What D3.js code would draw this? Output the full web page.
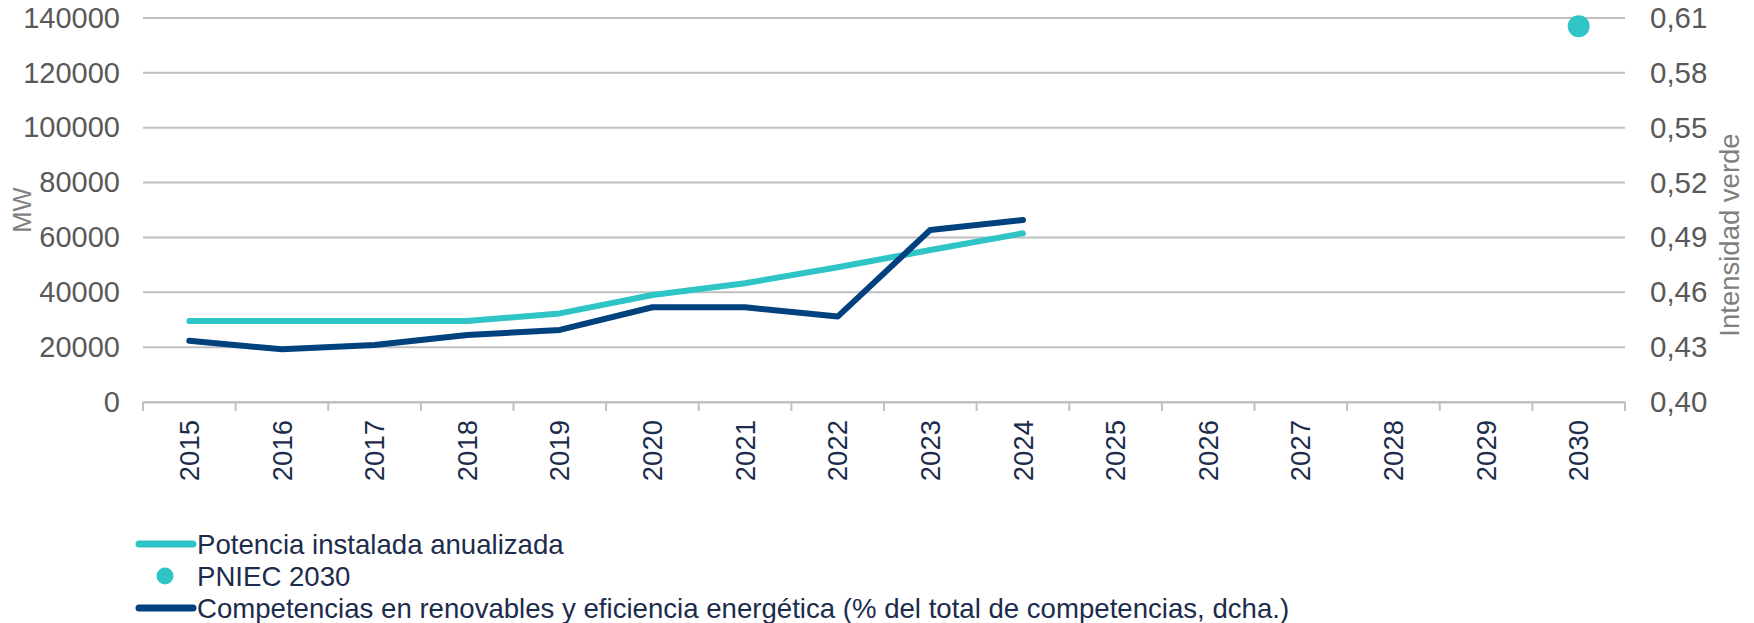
<!DOCTYPE html>
<html>
<head>
<meta charset="utf-8">
<script src="https://cdn.jsdelivr.net/npm/d3@7"></script>
<style>
  body { margin: 0; background: #ffffff; }
  #my_dataviz { width: 1754px; height: 623px; }
  text { font-family: "Liberation Sans", Arial, sans-serif; }
</style>
</head>
<body>
<div id="my_dataviz"></div>
<script>
// Data
const years = ["2015", "2016", "2017", "2018", "2019", "2020", "2021", "2022",
  "2023", "2024", "2025", "2026", "2027", "2028", "2029", "2030"];
const potenciaYears = ["2015", "2016", "2017", "2018", "2019", "2020", "2021", "2022", "2023", "2024"];
const potenciaValues = [29500, 29500, 29500, 29500, 32300, 39000, 43300, 49100, 55400, 61500];
const competenciasValues = [0.4335, 0.4288, 0.4312, 0.4366, 0.4394, 0.4518, 0.4518, 0.4467, 0.4941, 0.4995];
const pniecYear = "2030";
const pniecValue = 137000;
const leftTicks = [0, 20000, 40000, 60000, 80000, 100000, 120000, 140000];
const rightTicks = [0.40, 0.43, 0.46, 0.49, 0.52, 0.55, 0.58, 0.61];
const legendLabels = [
  "Potencia instalada anualizada",
  "PNIEC 2030",
  "Competencias en renovables y eficiencia energética (% del total de competencias, dcha.)"
];

const width = 1754;
const height = 623;
const margin = { top: 18, right: 129, bottom: 221, left: 143 };

const teal = "#2fc4c6";
const navy = "#00417e";
const textNavy = "#1c2c4c";
const grey = "#595959";

const svg = d3.select("#my_dataviz")
  .append("svg")
  .attr("width", width)
  .attr("height", height);

// Scales
const x = d3.scaleBand()
  .domain(years)
  .range([margin.left, width - margin.right]);

const yLeft = d3.scaleLinear()
  .domain([0, 140000])
  .range([height - margin.bottom, margin.top]);

const yRight = d3.scaleLinear()
  .domain([0.40, 0.61])
  .range([height - margin.bottom, margin.top]);

const cx = d => x(d) + x.bandwidth() / 2;

// Gridlines
svg.append("g")
  .selectAll("line")
  .data(leftTicks)
  .join("line")
  .attr("x1", margin.left)
  .attr("x2", width - margin.right)
  .attr("y1", d => yLeft(d))
  .attr("y2", d => yLeft(d))
  .style("stroke", "#c0c0c0")
  .style("stroke-width", 2);

// Left axis labels
const leftAxis = svg.append("g")
  .attr("transform", `translate(${margin.left},0)`)
  .call(d3.axisLeft(yLeft).tickValues(leftTicks).tickSize(0).tickPadding(23).tickFormat(d3.format("d")));
leftAxis.select(".domain").remove();
leftAxis.selectAll("text")
  .style("font-size", "29px")
  .style("fill", grey)
  .style("font-family", "'Liberation Sans', Arial, sans-serif");

// Right axis labels
const rightAxis = svg.append("g")
  .attr("transform", `translate(${width - margin.right},0)`)
  .call(d3.axisRight(yRight).tickValues(rightTicks).tickSize(0).tickPadding(25)
    .tickFormat(d => d3.format(".2f")(d).replace(".", ",")));
rightAxis.select(".domain").remove();
rightAxis.selectAll("text")
  .style("font-size", "29.5px")
  .style("fill", grey)
  .style("font-family", "'Liberation Sans', Arial, sans-serif");

// Bottom axis with ticks at band edges
const xAxis = svg.append("g")
  .attr("transform", `translate(0,${height - margin.bottom})`)
  .call(d3.axisBottom(x).tickSize(0).tickPadding(18));
xAxis.select(".domain").style("stroke", "#c0c0c0").style("stroke-width", 2);
xAxis.selectAll("text")
  .attr("transform", "rotate(-90)")
  .attr("x", -18)
  .attr("y", 0)
  .attr("dy", "0.35em")
  .attr("text-anchor", "end")
  .style("font-size", "27.5px")
  .style("fill", textNavy)
  .style("font-family", "'Liberation Sans', Arial, sans-serif");

svg.append("g")
  .selectAll("line")
  .data(years.concat(["end"]))
  .join("line")
  .attr("x1", (d, i) => margin.left + i * x.bandwidth())
  .attr("x2", (d, i) => margin.left + i * x.bandwidth())
  .attr("y1", height - margin.bottom)
  .attr("y2", height - margin.bottom + 9)
  .style("stroke", "#c0c0c0")
  .style("stroke-width", 2);

// Axis titles
svg.append("text")
  .attr("transform", `translate(22,${(yLeft(60000) + yLeft(80000)) / 2}) rotate(-90)`)
  .attr("text-anchor", "middle")
  .attr("dy", "0.35em")
  .style("font-size", "25.5px")
  .style("fill", "#7f7f7f")
  .text("MW");

svg.append("text")
  .attr("transform", `translate(1729,235) rotate(-90)`)
  .attr("text-anchor", "middle")
  .attr("dy", "0.35em")
  .style("font-size", "27.5px")
  .style("fill", "#7f7f7f")
  .text("Intensidad verde");

// Lines
const potenciaLine = d3.line()
  .x(d => cx(d.year))
  .y(d => yLeft(d.value));

const competenciasLine = d3.line()
  .x(d => cx(d.year))
  .y(d => yRight(d.value));

svg.append("path")
  .datum(potenciaYears.map((year, i) => ({ year, value: potenciaValues[i] })))
  .attr("d", potenciaLine)
  .style("fill", "none")
  .style("stroke", teal)
  .style("stroke-width", 6)
  .style("stroke-linecap", "round")
  .style("stroke-linejoin", "round");

svg.append("path")
  .datum(potenciaYears.map((year, i) => ({ year, value: competenciasValues[i] })))
  .attr("d", competenciasLine)
  .style("fill", "none")
  .style("stroke", navy)
  .style("stroke-width", 6)
  .style("stroke-linecap", "round")
  .style("stroke-linejoin", "round");

// PNIEC 2030 point
svg.append("circle")
  .attr("cx", cx(pniecYear))
  .attr("cy", yLeft(pniecValue))
  .attr("r", 11)
  .style("fill", teal);

// Legend
const legend = svg.append("g")
  .selectAll("g")
  .data(legendLabels)
  .join("g")
  .attr("transform", (d, i) => `translate(0,${544 + i * 32})`);

legend.each(function(d, i) {
  const g = d3.select(this);
  if (i === 1) {
    g.append("circle")
      .attr("cx", 165)
      .attr("cy", 0)
      .attr("r", 8.5)
      .style("fill", teal);
  } else {
    g.append("line")
      .attr("x1", 139)
      .attr("x2", 193)
      .attr("y1", 0)
      .attr("y2", 0)
      .style("stroke", i === 0 ? teal : navy)
      .style("stroke-width", 7)
      .style("stroke-linecap", "round");
  }
  g.append("text")
    .attr("x", 197)
    .attr("y", 0)
    .attr("dy", "0.35em")
    .style("font-size", "27.6px")
    .style("fill", textNavy)
    .text(d);
});
</script>
</body>
</html>
